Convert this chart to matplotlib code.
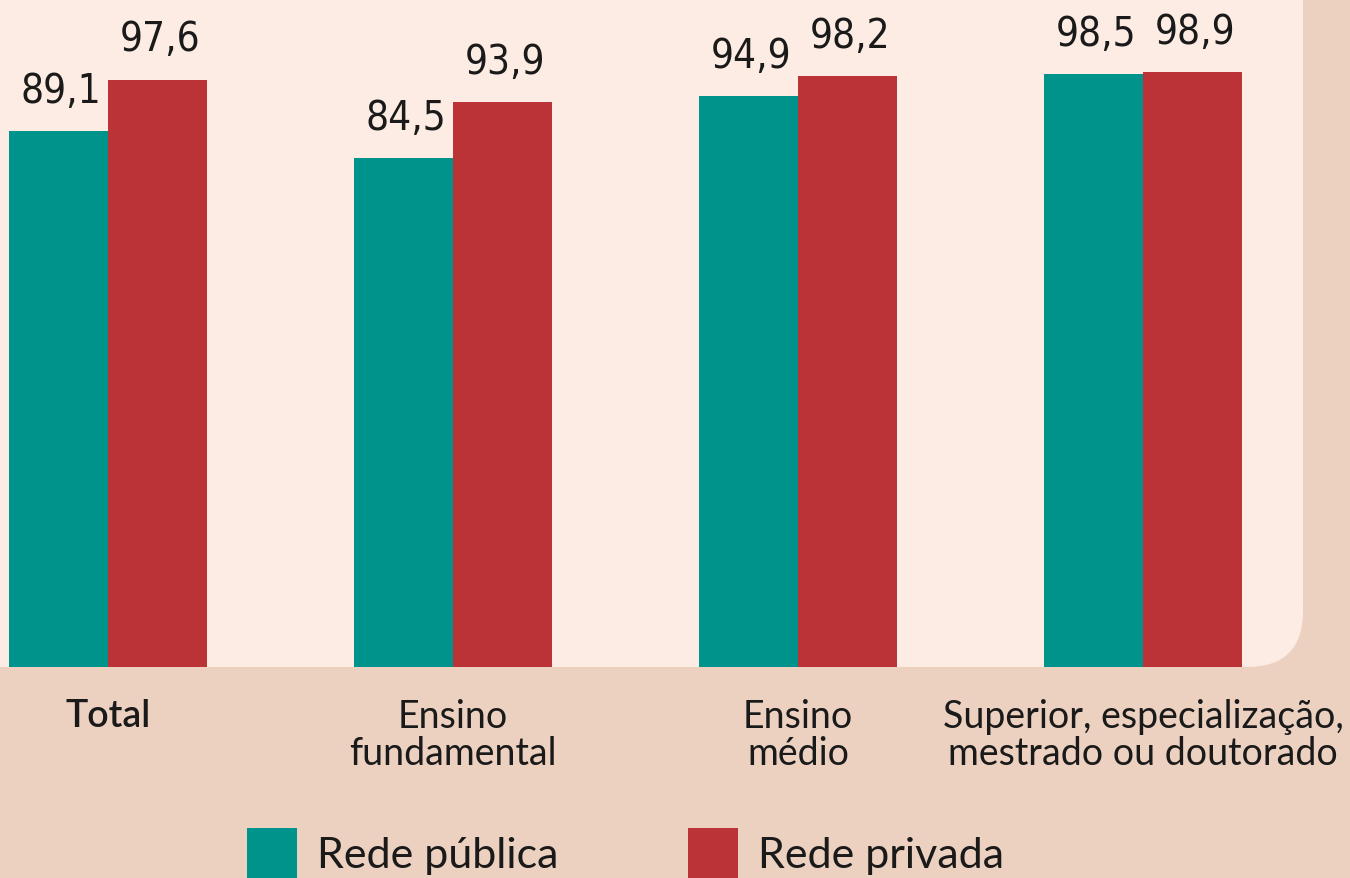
import matplotlib.pyplot as plt
from matplotlib import font_manager
from matplotlib.patches import FancyBboxPatch, Patch

# dados
categorias = ['Total', 'Ensino\nfundamental', 'Ensino\nmédio',
              'Superior, especialização,\nmestrado ou doutorado']
rede_publica = [89.1, 84.5, 94.9, 98.5]
rede_privada = [97.6, 93.9, 98.2, 98.9]
rotulos_publica = ['89,1', '84,5', '94,9', '98,5']
rotulos_privada = ['97,6', '93,9', '98,2', '98,9']

cor_publica = '#00938c'
cor_privada = '#bb3336'
cor_fundo = '#ecd0c0'
cor_painel = '#fdece3'

# fonte estreita para os números, se houver
fonte_num = None
for f in font_manager.fontManager.ttflist:
    n = (f.fname + f.name).lower()
    if ('narrow' in n or 'condensed' in n) and 'bold' not in n and 'oblique' not in n and 'italic' not in n:
        fonte_num = font_manager.FontProperties(fname=f.fname, size=29)
        break
if fonte_num is None:
    fonte_num = font_manager.FontProperties(family='DejaVu Sans', size=26)

W, H = 1350, 879
fig = plt.figure(figsize=(W / 100, H / 100), dpi=100, facecolor=cor_fundo)

# painel claro com canto arredondado
bg = fig.add_axes([0, 0, 1, 1], zorder=0)
bg.set_xlim(0, W)
bg.set_ylim(0, H)
bg.axis('off')
bg.add_patch(FancyBboxPatch((-200, H - 668), 1303 + 200, 1000,
                            boxstyle='round,pad=0,rounding_size=56',
                            facecolor=cor_painel, edgecolor='none'))

ax = fig.add_axes([0, (H - 668) / H, 1, 668 / H], zorder=1)
ax.patch.set_visible(False)
x = list(range(len(categorias)))
largura = 0.288
ax.bar([i - largura / 2 for i in x], rede_publica, largura, color=cor_publica)
ax.bar([i + largura / 2 for i in x], rede_privada, largura, color=cor_privada)
ax.set_xlim(-108 / 345, (W - 108) / 345)
ax.set_ylim(0, 111)

for i in x:
    ax.annotate(rotulos_publica[i], (i - largura / 2, rede_publica[i]),
                xytext=(2, 21), textcoords='offset points', ha='center',
                va='baseline', fontproperties=fonte_num, color='#1a1a1a')
    ax.annotate(rotulos_privada[i], (i + largura / 2, rede_privada[i]),
                xytext=(2, 21), textcoords='offset points', ha='center',
                va='baseline', fontproperties=fonte_num, color='#1a1a1a')

ax.set_yticks([])
ax.set_xticks(x)
ax.set_xticklabels(categorias, family='Lato', fontsize=27, linespacing=1.05,
                   color='#1a1a1a')
ax.get_xticklabels()[0].set_fontweight('semibold')
ax.tick_params(axis='x', length=0, pad=22)
for s in ax.spines.values():
    s.set_visible(False)

handles = [Patch(facecolor=cor_publica, label='Rede pública'),
           Patch(facecolor=cor_privada, label='Rede privada')]
fig.legend(handles=handles, loc='upper left', bbox_to_anchor=(247 / W, 1 - 829 / H),
           ncol=2, frameon=False, prop={'family': 'Lato', 'size': 31},
           handlelength=1.16, handleheight=1.4, handletextpad=0.47,
           columnspacing=3.0, borderpad=0, borderaxespad=0,
           labelcolor='#1a1a1a')

fig.savefig('out.png', dpi=100, facecolor=cor_fundo)
